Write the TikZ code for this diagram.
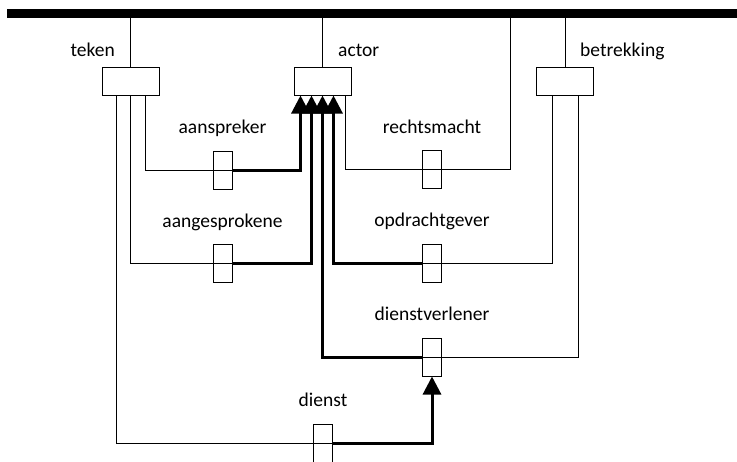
\documentclass[tikz,border=0pt]{standalone}
\usepackage{fontspec}
\setmainfont{Carlito}
\usetikzlibrary{positioning, arrows.meta}
\tikzset{
bigbox/.style={
  draw, 
  rectangle, 
  line width=1pt, 
  minimum width=57pt, 
  minimum height=28pt, inner sep=0pt
  }, 
slot/.style={
  draw, 
  rectangle, 
  line width=1pt, 
  minimum width=19pt, 
  minimum height=38pt, inner sep=0pt
  }, 
lbl/.style={inner sep=0pt, font=\fontsize{19.5}{23}\selectfont},
link/.style={line width=1pt},
flow/.style={line width=3pt, -{Triangle[width=18pt,length=18pt]}}
}
\begin{document}
\begin{tikzpicture}[x=1pt, y=-1pt]
\useasboundingbox (0,0) rectangle (737,461);

\coordinate	(barL)	at (7,13.5);
\coordinate	(barR)	at (737,13.5);
\coordinate	(rechtsbar)	at (510,13.5);

\node[bigbox]	(teken)		at (130.5,81)	{};
\node[bigbox]	(actor)		at (322.5,81)	{};
\node[bigbox]	(betrekking)	at (565,81)	{};

\node[slot]	(aanspreker)		at (222.5,170)	{};
\node[slot]	(rechtsmacht)	at (432,169.5)	{};
\node[slot]	(aangesprokene)	at (222.5,263.5)	{};
\node[slot]	(opdrachtgever)	at (432,263)	{};
\node[slot]	(dienstverlener)	at (432,357)	{};
\node[slot]	(dienst)			at (323,443)	{};

\node[lbl, anchor=base east]	(tekenlbl)		at (115,56)	{teken};
\node[lbl, anchor=base west]	(actorlbl)		at (338,56)	{actor};
\node[lbl, anchor=base west]	(betrekkinglbl)	at (580,56)	{betrekking};
\node[lbl, above=17pt of aanspreker, anchor=base]		(aansprekerlbl)		{aanspreker};
\node[lbl, above=17pt of rechtsmacht, anchor=base]		(rechtsmachtlbl)	{rechtsmacht};
\node[lbl, above=17pt of aangesprokene, anchor=base]	(aangesprokenelbl)	{aangesprokene};
\node[lbl, above=17pt of opdrachtgever, anchor=base]	(opdrachtgeverlbl)	{opdrachtgever};
\node[lbl, above=17pt of dienstverlener, anchor=base]	(dienstverlenerlbl)	{dienstverlener};
\node[lbl, above=17pt of dienst, anchor=base]			(dienstlbl)			{dienst};

\draw[link]	(teken.north)		--	(teken.north |- barL);
\draw[link]	(actor.north)		--	(actor.north |- barL);
\draw[link]	(betrekking.north)	--	(betrekking.north |- barL);

\draw[link]	([xshift=15pt]teken.south)		|-	(aanspreker.east);
\draw[link]	(teken.south)					|-	(aangesprokene.east);
\draw[link]	([xshift=-14.5pt]teken.south)	|-	(dienst.east);
\draw[link]	([xshift=22.5pt]actor.south)		|-	(rechtsmacht.east)	-|	(rechtsbar);
\draw[link]	([xshift=-13pt]betrekking.south)	|-	(opdrachtgever.west);
\draw[link]	([xshift=13pt]betrekking.south)	|-	(dienstverlener.west);

\draw[flow]	(aanspreker.east)		-|	([xshift=-22pt]actor.south);
\draw[flow]	(aangesprokene.east)	-|	([xshift=-11pt]actor.south);
\draw[flow]	(dienstverlener.west)	-|	(actor.south);
\draw[flow]	(opdrachtgever.west)	-|	([xshift=11pt]actor.south);
\draw[flow]	(dienst.east)			-|	(dienstverlener.south);

\draw[line width=9pt]	(barL)	--	(barR);
\end{tikzpicture}
\end{document}
